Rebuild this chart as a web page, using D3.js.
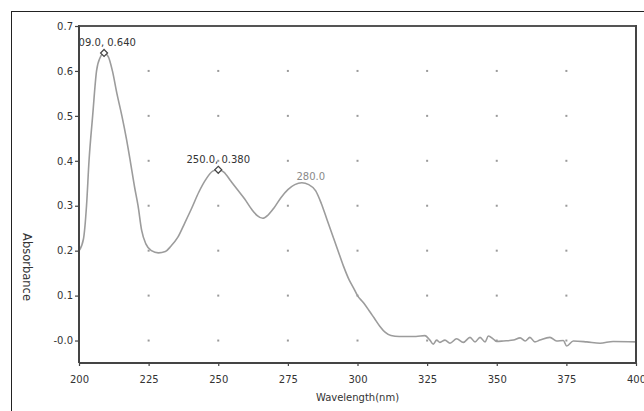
<!DOCTYPE html>
<html><head><meta charset="utf-8">
<script src="https://cdn.jsdelivr.net/npm/d3@7"></script>
<style>
html,body{margin:0;padding:0;background:#fff;}
svg{display:block;}
text{font-family:"DejaVu Sans",sans-serif;}
</style></head>
<body>
<svg id="chart" width="644" height="411"></svg>
<script>
// ---- data ----
const wavelength = [200,201.6,202.7,203.6,204.9,206.3,207.6,209,210.5,212,213.6,215.4,217,218.4,220,221.2,222.5,224,226,228.5,231,233,235.5,238,240.5,243,245.5,248,250,252,254.5,257,259.5,262,264,266,268,270,272.5,275,277.5,280,282.5,285,287,289,291,293,295,297,298.5,300,302,304,306,308,310,312,315,318,321,324.2,326,327.2,328.4,329.6,331.4,333.2,335.6,338,340.4,342.2,344,345.8,347,348.8,350,352.4,356,358.4,360.2,361.9,363.7,365.5,369.1,371.5,373.9,375.1,377.5,382.3,387.1,391.8,400];
const absorbance = [0.200,0.226,0.300,0.400,0.500,0.600,0.630,0.640,0.632,0.600,0.550,0.500,0.450,0.400,0.340,0.300,0.245,0.215,0.200,0.195,0.198,0.210,0.230,0.262,0.295,0.330,0.358,0.377,0.380,0.375,0.355,0.335,0.315,0.292,0.278,0.272,0.280,0.295,0.318,0.336,0.347,0.351,0.347,0.333,0.305,0.270,0.235,0.200,0.165,0.135,0.118,0.100,0.085,0.068,0.050,0.032,0.018,0.011,0.009,0.009,0.009,0.011,0.001,-0.008,0.001,-0.004,0.001,-0.006,0.004,-0.004,0.007,-0.003,0.007,-0.003,0.010,0.003,-0.002,-0.001,0.001,0.006,-0.001,0.007,-0.003,0.001,0.007,-0.001,0.000,-0.012,-0.001,-0.003,-0.006,-0.002,-0.003];
const xTicks = [200,225,250,275,300,325,350,375,400];
const xTickLabels = ["200","225","250","275","300","325","350","375","400"];
const yTicks = [0.0,0.1,0.2,0.3,0.4,0.5,0.6,0.7];
const yTickLabels = ["-0.0","0.1","0.2","0.3","0.4","0.5","0.6","0.7"];
const peakX = [209,250];
const peakY = [0.640,0.380];
const peakLabels = ["209.0, 0.640","250.0, 0.380"];
const markX = [280];
const markY = [0.351];
const markLabels = ["280.0"];

// ---- layout ----
const svg = d3.select("#chart");
const L = 79, R = 636, T = 26, B = 363;
const x = d3.scaleLinear().domain([200,400]).range([L,R]);
const y = d3.scaleLinear().domain([-0.05,0.7]).range([B,T]);

// outer frame
svg.append("rect").attr("x",11.5).attr("y",11.5).attr("width",700).attr("height",500)
  .attr("fill","none").attr("stroke","#222").attr("stroke-width",1);

// grid dots
const gx = xTicks.slice(1,-1);
gx.forEach(v=>{
  yTicks.forEach(t=>{
    svg.append("rect").attr("x",x(v)-1).attr("y",y(t)-1).attr("width",2).attr("height",2)
      .attr("fill", t===0.7 ? "#444" : "#9a9a9a");
  });
});

// clip
svg.append("clipPath").attr("id","plotclip").append("rect")
  .attr("x",L).attr("y",T).attr("width",R-L).attr("height",B-T);

// curve
const pts = wavelength.map((w,i)=>[w,absorbance[i]]);
const line = d3.line().x(d=>x(d[0])).y(d=>y(d[1])).curve(d3.curveMonotoneX);
const g = svg.append("g").attr("clip-path","url(#plotclip)");
g.append("path").datum(pts).attr("d",line).attr("fill","none")
  .attr("stroke","#9c9c9c").attr("stroke-width",1.6);

// peak labels
peakX.forEach((w,i)=>{
  const px = x(w), py = y(peakY[i]);
  g.append("path").attr("d",`M${px},${py-3.5}L${px+3.5},${py}L${px},${py+3.5}L${px-3.5},${py}Z`)
    .attr("fill","#fff").attr("stroke","#444").attr("stroke-width",1.2);
  g.append("text").attr("x",px).attr("y",py-7).attr("text-anchor","middle")
    .attr("font-size",10).attr("fill","#333").text(peakLabels[i]);
});
markX.forEach((w,i)=>{
  g.append("text").attr("x",x(w)+9).attr("y",y(markY[i])-3).attr("text-anchor","middle")
    .attr("font-size",10).attr("fill","#8a8a8a").text(markLabels[i]);
});

// plot frame top/right
svg.append("line").attr("x1",L).attr("x2",R).attr("y1",T).attr("y2",T).attr("stroke","#555").attr("stroke-width",2);
svg.append("line").attr("x1",R).attr("x2",R).attr("y1",T-1).attr("y2",B).attr("stroke","#444").attr("stroke-width",2);

// axes
const xAxis = d3.axisBottom(x).tickValues(xTicks).tickFormat((d,i)=>xTickLabels[i]).tickSize(3).tickPadding(10);
const yAxis = d3.axisLeft(y).tickValues(yTicks).tickFormat((d,i)=>yTickLabels[i]).tickSize(4).tickPadding(2);
const xa = svg.append("g").attr("transform",`translate(0,${B})`).call(xAxis);
const ya = svg.append("g").attr("transform",`translate(${L},0)`).call(yAxis);
[xa,ya].forEach(a=>{
  a.select(".domain").attr("stroke","#444").attr("stroke-width",2);
  a.selectAll(".tick line").attr("stroke","#444").attr("stroke-width",1.2);
  a.selectAll(".tick text").attr("font-family","DejaVu Sans, sans-serif").attr("font-size",10).attr("fill","#333");
});
xa.select(".domain").attr("d",`M${L},0H${R}`);
ya.select(".domain").attr("d",`M0,${B}V${T-1}`);

// axis titles
svg.append("text").attr("x",x(300)).attr("y",401).attr("text-anchor","middle")
  .attr("font-size",10).attr("fill","#333").text("Wavelength(nm)");
svg.append("text").attr("transform","translate(23,267) rotate(90)").attr("text-anchor","middle")
  .attr("font-size",11.5).attr("fill","#333").text("Absorbance");
</script>
</body></html>
